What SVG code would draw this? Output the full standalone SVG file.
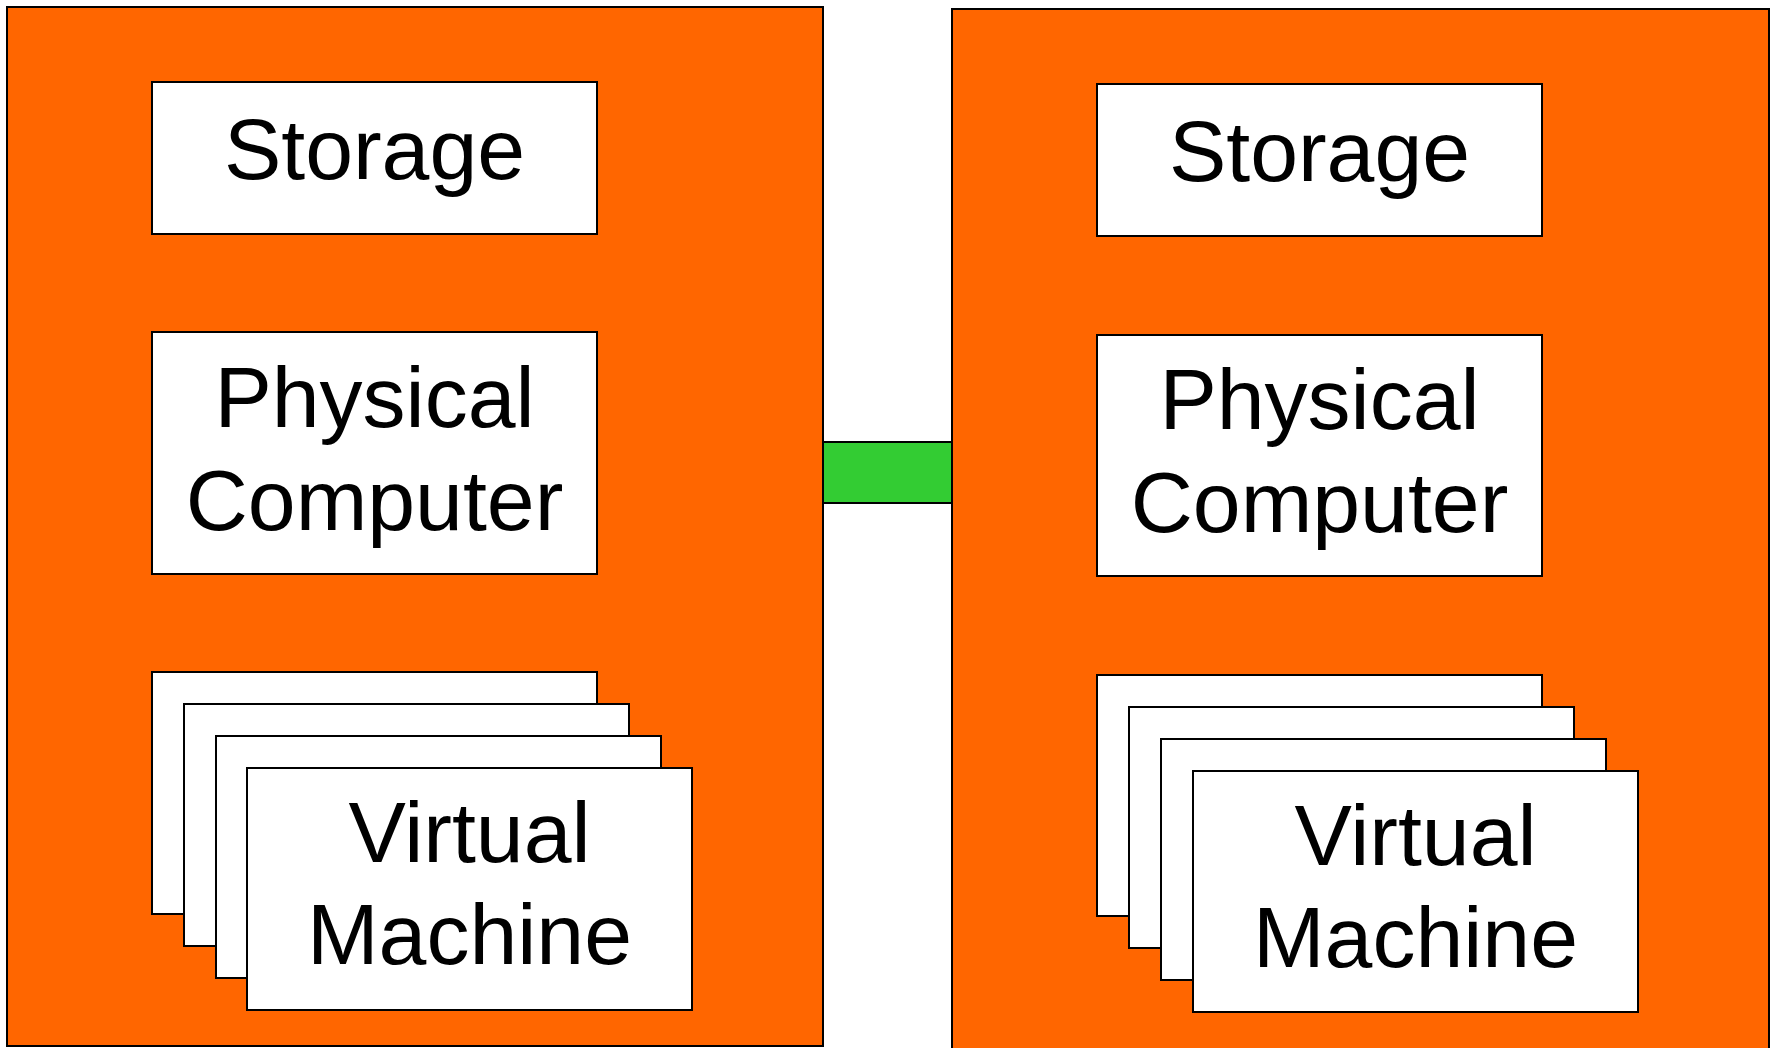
<svg xmlns="http://www.w3.org/2000/svg" width="1779" height="1048" viewBox="0 0 1779 1048">
  <style>
    .host { fill: #ff6600; stroke: #000; stroke-width: 2; }
    .box { fill: #fff; stroke: #000; stroke-width: 2; }
    .link { fill: #33cc33; stroke: #000; stroke-width: 2; }
    .label { font-family: "Liberation Sans", Arial, Helvetica, sans-serif; font-size: 86px; fill: #000; text-anchor: middle; }
  </style>
  <rect width="1779" height="1048" fill="#fff"/>

  <!-- left host -->
  <g id="host-left">
    <rect class="host" x="7" y="7" width="816" height="1039"/>
  </g>
  <g id="storage-left">
    <rect class="box" x="152" y="82" width="445" height="152"/>
    <text class="label" x="374.5" y="179">Storage</text>
  </g>
  <g id="computer-left">
    <rect class="box" x="152" y="332" width="445" height="242"/>
    <text class="label" x="374.5" y="427">Physical</text>
    <text class="label" x="374.5" y="530">Computer</text>
  </g>
  <g id="vms-left">
    <rect class="box" x="152" y="672" width="445" height="242"/>
    <rect class="box" x="184" y="704" width="445" height="242"/>
    <rect class="box" x="216" y="736" width="445" height="242"/>
    <rect class="box" x="247" y="768" width="445" height="242"/>
    <text class="label" x="469.5" y="862">Virtual</text>
    <text class="label" x="469.5" y="964">Machine</text>
  </g>

  <!-- right host -->
  <g id="host-right">
    <rect class="host" x="952" y="9" width="817" height="1050"/>
  </g>
  <g id="storage-right">
    <rect class="box" x="1097" y="84" width="445" height="152"/>
    <text class="label" x="1319.5" y="181">Storage</text>
  </g>
  <g id="computer-right">
    <rect class="box" x="1097" y="335" width="445" height="241"/>
    <text class="label" x="1319.5" y="429">Physical</text>
    <text class="label" x="1319.5" y="532">Computer</text>
  </g>
  <g id="vms-right">
    <rect class="box" x="1097" y="675" width="445" height="241"/>
    <rect class="box" x="1129" y="707" width="445" height="241"/>
    <rect class="box" x="1161" y="739" width="445" height="241"/>
    <rect class="box" x="1193" y="771" width="445" height="241"/>
    <text class="label" x="1415.5" y="865">Virtual</text>
    <text class="label" x="1415.5" y="967">Machine</text>
  </g>

  <!-- network link between the hosts -->
  <g id="connectors">
    <rect class="link" x="823" y="442" width="129" height="61"/>
  </g>
</svg>
